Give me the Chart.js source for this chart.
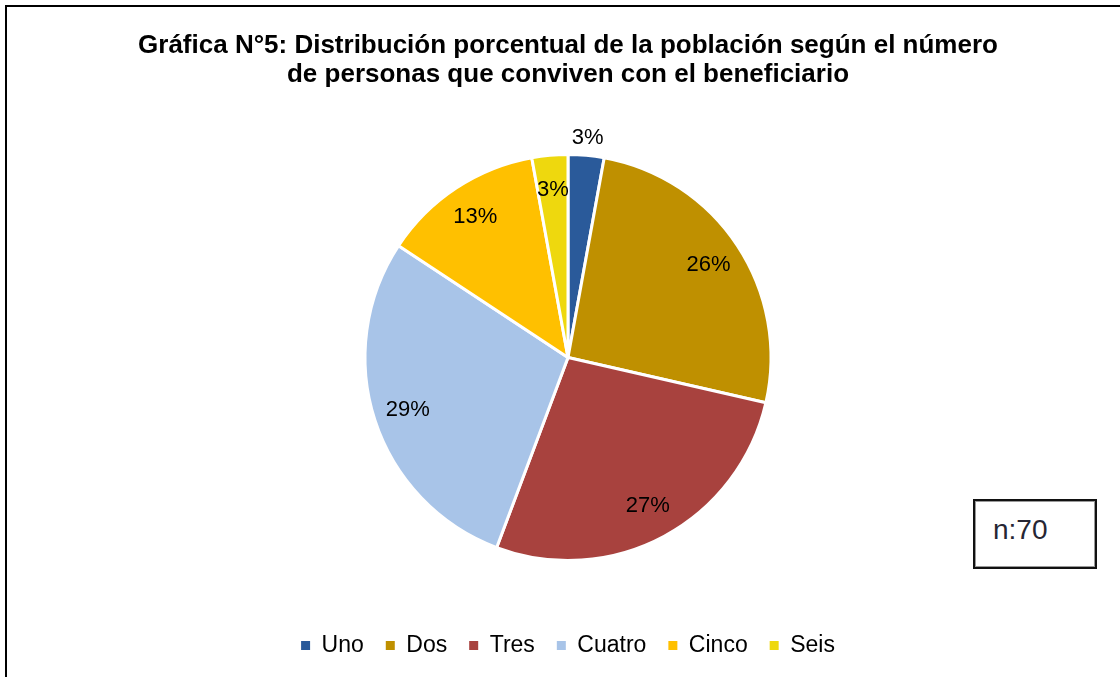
<!DOCTYPE html>
<html>
<head>
<meta charset="utf-8">
<script src="https://cdn.jsdelivr.net/npm/chart.js@4.4.1/dist/chart.umd.min.js"></script>
<style>
  html, body { margin: 0; padding: 0; background: #fff; }
  #wrap { position: relative; width: 1120px; height: 677px; overflow: hidden; }
  #frame { position: absolute; left: 5px; top: 5px; width: 1300px; height: 900px;
           border-top: 2px solid #000; border-left: 2px solid #000; pointer-events: none; }
  #nbox { position: absolute; left: 973px; top: 499px; width: 120px; height: 66px;
          border: 2px solid #111; box-shadow: inset 0 0 0 1px #999; background: #fff;
          font-family: "Liberation Sans", Arial, sans-serif; font-size: 28px; color: #262633; }
  #nbox span { position: absolute; left: 18px; top: 13px; }
  canvas { position: absolute; left: 0; top: 0; }
</style>
</head>
<body>
<div id="wrap">
  <canvas id="c" width="1120" height="677"></canvas>
  <div id="frame"></div>
  <div id="nbox"><span>n:70</span></div>
</div>
<script>
const categories = ["Uno", "Dos", "Tres", "Cuatro", "Cinco", "Seis"];
const counts = [2, 18, 19, 20, 9, 2];
const colors = ["#2A5A9A", "#BF9000", "#A8423E", "#A8C4E8", "#FFC000", "#EED80E"];
const titleLines = ["Gráfica N°5: Distribución porcentual de la población según el número",
                    "de personas que conviven con el beneficiario"];

const FONT = "'Liberation Sans', Arial, sans-serif";

const labelPlugin = {
  id: 'pctLabels',
  afterDatasetsDraw(chart) {
    const ctx = chart.ctx;
    const meta = chart.getDatasetMeta(0);
    const data = chart.data.datasets[0].data;
    const total = data.reduce((a, b) => a + b, 0);
    ctx.save();
    ctx.font = "22px " + FONT;
    ctx.fillStyle = "#000";
    ctx.textAlign = "center";
    ctx.textBaseline = "middle";
    meta.data.forEach((arc, i) => {
      const p = arc.getProps(['x', 'y', 'startAngle', 'endAngle', 'outerRadius'], true);
      const mid = (p.startAngle + p.endAngle) / 2;
      const f = i === 0 ? 1.085 : 0.83;
      const tx = p.x + Math.cos(mid) * p.outerRadius * f;
      const ty = p.y + Math.sin(mid) * p.outerRadius * f;
      ctx.fillText(Math.round(data[i] / total * 100) + "%", tx, ty);
    });
    ctx.restore();
  }
};

new Chart(document.getElementById('c'), {
  type: 'pie',
  data: {
    labels: categories,
    datasets: [{
      data: counts,
      backgroundColor: colors,
      borderColor: '#ffffff',
      borderWidth: 3
    }]
  },
  options: {
    responsive: false,
    animation: false,
    radius: 203,
    layout: { padding: { top: 31, left: 16, right: 0, bottom: 10 } },
    plugins: {
      title: {
        display: true,
        text: titleLines,
        color: '#000',
        font: { family: FONT, size: 26, weight: 'bold', lineHeight: 29/26 },
        padding: { top: 0, bottom: 14 }
      },
      legend: {
        position: 'bottom',
        labels: {
          color: '#000',
          font: { family: FONT, size: 23 },
          boxWidth: 9,
          boxHeight: 9,
          padding: 22,
          generateLabels(chart) {
            const items = Chart.overrides.pie.plugins.legend.labels.generateLabels(chart);
            items.forEach(it => { it.lineWidth = 0; it.strokeStyle = it.fillStyle; });
            return items;
          }
        }
      },
      tooltip: { enabled: false }
    }
  },
  plugins: [labelPlugin]
});
</script>
</body>
</html>
